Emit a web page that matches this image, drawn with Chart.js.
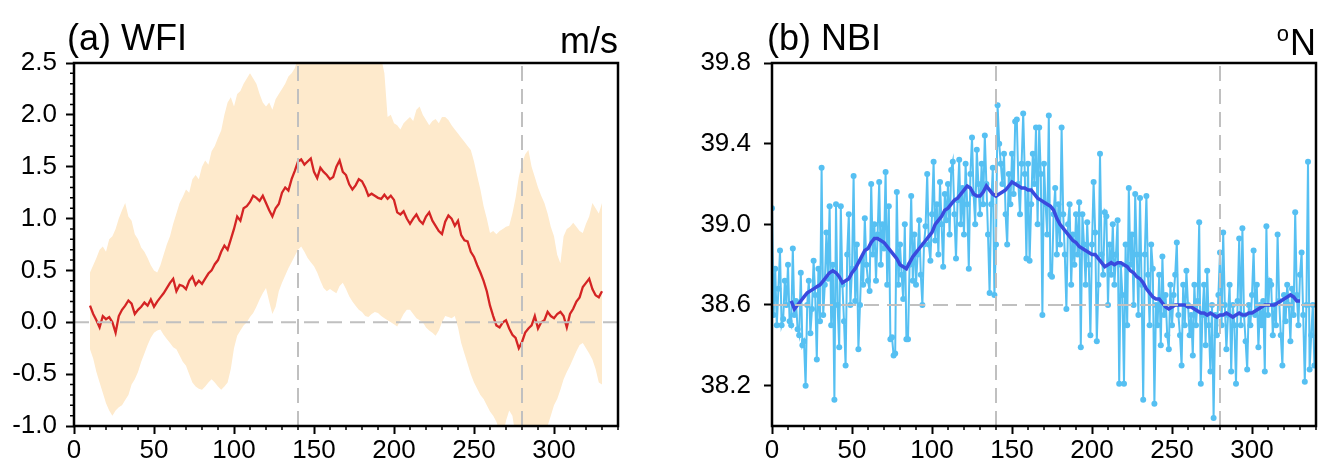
<!DOCTYPE html>
<html>
<head>
<meta charset="utf-8">
<script src="https://cdn.jsdelivr.net/npm/chart.js@4.4.1/dist/chart.umd.min.js"></script>
<style>
  html, body { margin: 0; padding: 0; background: #fff; }
  #wrap { position: relative; width: 1320px; height: 469px; overflow: hidden; }
  canvas { position: absolute; top: 0; }
  #cA { left: 0; }
  #cB { left: 660px; }
</style>
</head>
<body>
<div id="wrap">
  <canvas id="cA" width="660" height="469"></canvas>
  <canvas id="cB" width="660" height="469"></canvas>
</div>
<script>
// ---- axes ----
const xTicks   = [0, 50, 100, 150, 200, 250, 300];
const xMinor   = [10,20,30,40,60,70,80,90,110,120,130,140,160,170,180,190,210,220,230,240,260,270,280,290,310,320,330,340];
const yTicksA  = [-1.0, -0.5, 0.0, 0.5, 1.0, 1.5, 2.0, 2.5];
const yMinorA  = [-0.9,-0.8,-0.7,-0.6,-0.4,-0.3,-0.2,-0.1,0.1,0.2,0.3,0.4,0.6,0.7,0.8,0.9,
                  1.1,1.2,1.3,1.4,1.6,1.7,1.8,1.9,2.1,2.2,2.3,2.4];
const yTicksB  = [38.2, 38.6, 39.0, 39.4, 39.8];
const refDaysA = [140, 280];   // vertical dashed lines
const refDaysB = [140, 280];

// ---- (a) WFI : every 2nd day from day 10 ----
const wfiStart = 10, wfiStep = 2;
const wfiMean = [
  0.16, 0.08, 0.02,-0.05, 0.06, 0.03, 0.05, 0.00,-0.10, 0.06,
  0.12, 0.16, 0.21, 0.18, 0.08, 0.12, 0.15, 0.19, 0.16, 0.22,
  0.15, 0.20, 0.24, 0.28, 0.33, 0.38, 0.42, 0.30, 0.36, 0.35,
  0.32, 0.40, 0.44, 0.36, 0.40, 0.37, 0.42, 0.47, 0.50, 0.56,
  0.60, 0.68, 0.74, 0.70, 0.80, 0.90, 1.02, 0.98, 1.10, 1.12,
  1.16, 1.22, 1.20, 1.17, 1.22, 1.15, 1.08, 1.02, 1.10, 1.14,
  1.25, 1.30, 1.27, 1.38, 1.46, 1.55, 1.57, 1.52, 1.55, 1.58,
  1.45, 1.39, 1.49, 1.45, 1.42, 1.38, 1.40, 1.50, 1.56, 1.45,
  1.42, 1.33, 1.28, 1.32, 1.38, 1.36, 1.30, 1.22, 1.24, 1.22,
  1.20, 1.19, 1.23, 1.19, 1.22, 1.18, 1.06, 1.04, 1.07, 1.00,
  0.95, 1.00, 1.04, 0.98, 0.95, 1.02, 1.06, 0.98, 0.93, 0.88,
  0.85, 0.97, 1.03, 1.00, 0.93, 0.98, 0.84, 0.79, 0.78, 0.68,
  0.63, 0.55, 0.48, 0.40, 0.30, 0.16, 0.06,-0.03,-0.05, 0.00,
  0.02,-0.06,-0.12,-0.15,-0.25,-0.19,-0.10,-0.06,-0.03, 0.06,
 -0.06, 0.00, 0.02, 0.10, 0.06, 0.04, 0.08, 0.10, 0.06,-0.05,
  0.08, 0.13, 0.20, 0.24, 0.34, 0.38, 0.42, 0.32, 0.26, 0.24,
  0.30
];
const wfiUpper = [
  0.48, 0.55, 0.62, 0.70, 0.73, 0.68, 0.80, 0.83, 0.90, 1.00,
  1.08, 1.15, 1.02, 0.98, 0.85, 0.80, 0.72, 0.68, 0.62, 0.55,
  0.50, 0.48, 0.55, 0.65, 0.75, 0.83, 0.95, 1.05, 1.15, 1.21,
  1.28, 1.25, 1.38, 1.42, 1.38, 1.50, 1.56, 1.52, 1.65, 1.70,
  1.78, 1.85, 2.00, 2.12, 2.17, 2.08, 2.20, 2.23, 2.30, 2.35,
  2.40, 2.35, 2.30, 2.20, 2.12, 2.08, 2.12, 2.05, 2.15, 2.20,
  2.25, 2.30, 2.37, 2.40, 2.45, 2.55, 2.60, 2.65, 2.70, 2.72,
  2.75, 2.78, 2.80, 2.75, 2.70, 2.68, 2.65, 2.62, 2.60, 2.58,
  2.55, 2.56, 2.58, 2.52, 2.55, 2.60, 2.62, 2.64, 2.62, 2.60,
  2.58, 2.55, 2.40, 1.98, 2.00, 1.92, 1.90, 1.86, 1.92, 1.95,
  1.98, 1.94, 2.05, 2.08, 2.00, 1.95, 1.90, 1.94, 1.96, 1.92,
  1.98, 1.98, 1.95, 1.90, 1.86, 1.82, 1.78, 1.74, 1.70, 1.66,
  1.55, 1.41, 1.28, 1.12, 1.00, 0.86, 0.88, 0.85, 0.88, 0.90,
  0.92, 0.93, 1.05, 1.20, 1.40, 1.53, 1.62, 1.66, 1.50, 1.40,
  1.30, 1.22, 1.15, 1.05, 0.92, 0.83, 0.65, 0.57, 0.83, 0.90,
  0.92, 0.96, 0.92, 0.88, 0.86, 0.95, 1.02, 1.15, 1.10, 1.05,
  1.15
];
const wfiLower = [
 -0.26,-0.35,-0.48,-0.58,-0.68,-0.78,-0.85,-0.90,-0.85,-0.82,
 -0.80,-0.75,-0.70,-0.60,-0.55,-0.48,-0.38,-0.30,-0.22,-0.15,
 -0.10,-0.08,-0.07,-0.12,-0.16,-0.20,-0.24,-0.26,-0.32,-0.38,
 -0.42,-0.50,-0.58,-0.62,-0.64,-0.65,-0.62,-0.58,-0.55,-0.58,
 -0.62,-0.65,-0.62,-0.58,-0.45,-0.25,-0.13,-0.08,-0.03, 0.00,
  0.05, 0.09, 0.15, 0.22, 0.28, 0.33, 0.20, 0.08, 0.15, 0.30,
  0.38, 0.45, 0.52, 0.58, 0.64, 0.70, 0.73, 0.68, 0.62, 0.58,
  0.54, 0.48, 0.40, 0.33, 0.30, 0.32, 0.30, 0.28, 0.35, 0.38,
  0.32, 0.25, 0.20, 0.16, 0.12, 0.10, 0.06, 0.05, 0.08, 0.10,
  0.09, 0.06, 0.04, 0.02, 0.00,-0.02,-0.04, 0.02, 0.08, 0.12,
  0.12, 0.08, 0.04, 0.02, 0.00,-0.05,-0.08,-0.10,-0.13,-0.08,
  0.00, 0.06, 0.05, 0.04, 0.06,-0.05,-0.20,-0.30,-0.40,-0.50,
 -0.58,-0.64,-0.70,-0.74,-0.80,-0.86,-0.90,-0.96,-1.05,-1.10,
 -0.95,-0.85,-0.90,-1.10,-1.15,-1.20,-1.18,-1.15,-1.12,-1.10,
 -1.08,-1.05,-1.02,-1.00,-0.90,-0.80,-0.74,-0.65,-0.55,-0.48,
 -0.42,-0.35,-0.28,-0.22,-0.20,-0.25,-0.30,-0.36,-0.45,-0.58,
 -0.60
];

// ---- (b) NBI : daily values from day 0, running mean every 2nd day from day 12 ----
const nbiStart = 0;
const nbiDaily = [
  39.08,38.55,38.78,38.50,38.68,38.87,38.50,38.53,38.72,38.60,
  38.80,38.52,38.50,38.88,38.55,38.62,38.48,38.45,38.76,38.40,
  38.42,38.20,38.60,38.72,38.46,38.58,38.82,38.65,38.33,38.78,
  38.52,39.28,38.55,38.70,38.96,38.73,39.09,38.50,38.80,38.13,
  39.10,38.60,38.39,39.09,38.70,38.52,38.30,38.85,39.05,38.60,
  38.78,39.24,38.62,38.90,38.38,38.60,38.82,38.70,39.03,38.80,
  38.72,38.67,39.20,38.85,39.00,38.72,38.95,39.21,38.80,39.00,
  38.88,39.26,38.70,39.09,38.43,38.44,38.35,38.36,39.16,38.70,
  38.90,38.75,38.63,39.00,38.43,38.43,38.80,39.14,38.72,38.95,
  38.70,38.85,39.02,38.75,38.60,38.90,38.99,39.25,38.90,38.82,
  39.05,39.31,38.92,39.10,38.85,39.21,39.00,38.79,39.15,39.02,
  39.20,38.95,39.27,39.31,39.05,38.83,39.12,39.32,39.00,39.18,
  38.95,39.30,39.10,38.78,39.25,39.43,39.15,39.00,39.37,39.20,
  39.05,39.30,39.10,39.44,39.20,38.95,38.66,39.10,39.28,38.65,
  38.90,39.59,39.40,39.30,39.20,39.35,39.05,38.90,39.25,39.10,
  39.35,39.15,39.51,39.52,39.20,39.05,39.30,39.55,39.25,38.83,
  39.30,38.82,39.10,39.35,39.20,39.48,39.00,39.48,39.25,38.55,
  39.30,39.10,38.95,39.54,38.75,38.74,39.05,39.18,38.85,39.10,
  38.90,39.48,39.05,38.85,38.58,39.00,39.10,38.70,38.95,38.80,
  39.05,38.85,39.11,38.39,39.05,38.90,38.70,39.01,38.80,38.45,
  38.90,39.21,38.96,38.42,38.70,39.35,38.85,38.75,39.06,39.04,
  38.60,38.90,38.75,39.00,38.70,38.85,39.02,38.21,38.80,38.65,
  38.21,38.90,38.50,39.18,38.80,38.95,38.60,39.15,38.85,38.55,
  39.13,38.70,38.13,38.85,39.14,38.75,38.50,38.90,38.78,38.11,
  38.60,38.50,38.75,38.40,38.84,38.55,38.65,38.45,38.38,38.70,
  38.50,38.65,38.75,38.91,38.55,38.45,38.30,38.70,38.50,38.77,
  38.60,38.45,38.55,38.35,38.70,38.50,38.62,39.01,38.21,38.55,
  38.70,38.40,38.77,38.50,38.27,38.60,38.04,38.55,38.45,38.65,
  38.86,38.50,38.96,38.60,38.38,38.55,38.70,38.27,38.60,38.50,
  38.21,38.62,38.93,38.50,38.98,38.55,38.42,38.28,38.60,38.50,
  38.65,38.87,38.55,38.70,38.39,38.60,38.50,38.62,38.27,38.99,
  38.55,38.72,38.70,38.45,38.60,38.50,38.95,38.62,38.45,38.30,
  38.65,38.52,38.70,38.60,38.42,38.68,38.55,39.06,38.65,38.50,
  38.75,38.86,38.55,38.22,38.60,39.31,38.28,38.45,38.60,38.30
];
const nbiSmoothStart = 12, nbiSmoothStep = 2;
const nbiSmooth = [
  38.62,38.58,38.60,38.62,38.64,38.66,38.67,38.68,38.69,38.70,
  38.72,38.74,38.76,38.77,38.76,38.74,38.71,38.72,38.73,38.76,
  38.78,38.81,38.84,38.87,38.88,38.91,38.93,38.93,38.92,38.91,
  38.89,38.87,38.85,38.83,38.80,38.79,38.78,38.81,38.84,38.86,
  38.88,38.90,38.92,38.94,38.96,39.00,39.02,39.04,39.07,39.08,
  39.10,39.12,39.13,39.15,39.17,39.19,39.18,39.15,39.14,39.14,
  39.16,39.19,39.17,39.15,39.14,39.15,39.16,39.17,39.19,39.21,
  39.20,39.19,39.18,39.18,39.17,39.17,39.15,39.13,39.12,39.11,
  39.10,39.09,39.07,39.03,39.00,38.98,38.96,38.94,38.92,38.91,
  38.89,38.88,38.87,38.86,38.85,38.85,38.83,38.81,38.79,38.80,
  38.81,38.80,38.81,38.81,38.80,38.79,38.77,38.76,38.74,38.73,
  38.71,38.68,38.66,38.64,38.63,38.63,38.61,38.59,38.58,38.59,
  38.60,38.60,38.60,38.60,38.59,38.59,38.58,38.57,38.56,38.56,
  38.55,38.56,38.55,38.54,38.55,38.55,38.56,38.55,38.54,38.55,
  38.56,38.55,38.55,38.56,38.56,38.57,38.58,38.59,38.60,38.60,
  38.60,38.60,38.61,38.62,38.63,38.64,38.65,38.64,38.62,38.62
];
const nbiRef = 38.6;

// ---- colours ----
const RED = 'rgb(212,36,36)';
const BAND = 'rgb(254,234,204)';
const LIGHTBLUE = 'rgb(86,192,242)';
const DARKBLUE = 'rgb(58,74,222)';
const DASH = 'rgb(192,192,192)';
const FONT = '"Liberation Sans", Arial, Helvetica, sans-serif';

const toPts = (arr, start, step) => arr.map((v, i) => ({ x: start + i * step, y: v }));

function dashSet(pts) {
  return { data: pts, borderColor: DASH, borderWidth: 2, borderDash: [15, 8],
           pointRadius: 0, fill: false, order: 0 };
}

/* frame, minor ticks and titles */
const framePlugin = {
  id: 'frame',
  afterDraw(chart, args, o) {
    const { ctx, chartArea: a, scales: { x, y } } = chart;
    ctx.save();
    ctx.strokeStyle = '#000';
    ctx.lineWidth = 1.5;
    ctx.beginPath();
    (o.minorX || []).forEach(v => {
      const px = x.getPixelForValue(v);
      ctx.moveTo(px, a.bottom); ctx.lineTo(px, a.bottom + 4);
    });
    (o.minorY || []).forEach(v => {
      const py = y.getPixelForValue(v);
      ctx.moveTo(a.left, py); ctx.lineTo(a.left - 4, py);
    });
    ctx.stroke();
    ctx.lineWidth = 2.5;
    ctx.strokeRect(a.left, a.top, a.right - a.left, a.bottom - a.top);

    ctx.fillStyle = '#000';
    ctx.textBaseline = 'alphabetic';
    ctx.font = '36px ' + FONT;
    ctx.textAlign = 'left';
    ctx.fillText(o.title, o.titleX, 50);
    ctx.textAlign = 'right';
    if (o.sup) {
      const w = ctx.measureText(o.unit).width;
      ctx.fillText(o.unit, a.right, 55);
      ctx.font = '22px ' + FONT;
      ctx.fillText(o.sup, a.right - w - 1, 41);
    } else {
      ctx.fillText(o.unit, a.right, 53);
    }
    ctx.restore();
  }
};

function baseOptions(cfg) {
  return {
    responsive: false,
    animation: false,
    devicePixelRatio: 1,
    layout: { padding: { top: 63, right: cfg.padRight, left: 0, bottom: 0 } },
    plugins: {
      legend: { display: false },
      tooltip: { enabled: false },
      frame: cfg.frame
    },
    scales: {
      x: {
        type: 'linear', min: 0, max: 340,
        afterBuildTicks: s => { s.ticks = xTicks.map(v => ({ value: v })); },
        afterFit: s => { s.height = 43; },
        grid: { display: true, drawOnChartArea: false, drawTicks: true, tickLength: 8,
                tickColor: '#000', tickWidth: 2 },
        border: { display: false },
        ticks: { color: '#000', font: { family: FONT, size: 26 }, padding: 1,
                 maxRotation: 0, autoSkip: false }
      },
      y: {
        type: 'linear', min: cfg.yMin, max: cfg.yMax,
        afterBuildTicks: s => { s.ticks = cfg.yTicks.map(v => ({ value: v })); },
        afterFit: s => { s.width = cfg.yWidth; },
        grid: { display: true, drawOnChartArea: false, drawTicks: true, tickLength: 8,
                tickColor: '#000', tickWidth: 2 },
        border: { display: false },
        ticks: { color: '#000', font: { family: FONT, size: 26 }, padding: cfg.yPad,
                 autoSkip: false, callback: v => Number(v).toFixed(1) }
      }
    }
  };
}

// ---- chart (a) ----
new Chart(document.getElementById('cA'), {
  type: 'line',
  data: {
    datasets: [
      dashSet([{ x: 0, y: 0 }, { x: 340, y: 0 }]),
      dashSet([{ x: refDaysA[0], y: -1 }, { x: refDaysA[0], y: 2.5 }]),
      dashSet([{ x: refDaysA[1], y: -1 }, { x: refDaysA[1], y: 2.5 }]),
      { data: toPts(wfiMean, wfiStart, wfiStep), borderColor: RED, borderWidth: 2.3,
        pointRadius: 0, fill: false, tension: 0, order: 1 },
      { data: toPts(wfiLower, wfiStart, wfiStep), borderWidth: 0, pointRadius: 0,
        fill: false, order: 3 },
      { data: toPts(wfiUpper, wfiStart, wfiStep), borderWidth: 0, pointRadius: 0,
        backgroundColor: BAND, fill: '-1', order: 2 }
    ]
  },
  options: baseOptions({
    padRight: 42, yMin: -1, yMax: 2.5, yTicks: yTicksA, yWidth: 74, yPad: 9,
    frame: { title: '(a) WFI', titleX: 67, unit: 'm/s', minorX: xMinor, minorY: yMinorA }
  }),
  plugins: [framePlugin]
});

// ---- chart (b) ----
new Chart(document.getElementById('cB'), {
  type: 'line',
  data: {
    datasets: [
      dashSet([{ x: 0, y: nbiRef }, { x: 340, y: nbiRef }]),
      dashSet([{ x: refDaysB[0], y: 38.0 }, { x: refDaysB[0], y: 39.8 }]),
      dashSet([{ x: refDaysB[1], y: 38.0 }, { x: refDaysB[1], y: 39.8 }]),
      { data: toPts(nbiSmooth, nbiSmoothStart, nbiSmoothStep), borderColor: DARKBLUE,
        borderWidth: 3.5, pointRadius: 0, fill: false, order: 1 },
      { data: toPts(nbiDaily, nbiStart, 1), borderColor: LIGHTBLUE, borderWidth: 2,
        pointRadius: 3, pointBackgroundColor: LIGHTBLUE, pointBorderWidth: 0,
        fill: false, order: 2 }
    ]
  },
  options: baseOptions({
    padRight: 2, yMin: 38.0, yMax: 39.8, yTicks: yTicksB, yWidth: 112, yPad: 13,
    frame: { title: '(b) NBI', titleX: 107, unit: 'N', sup: 'o', minorX: xMinor, minorY: [] }
  }),
  plugins: [framePlugin]
});
</script>
</body>
</html>
